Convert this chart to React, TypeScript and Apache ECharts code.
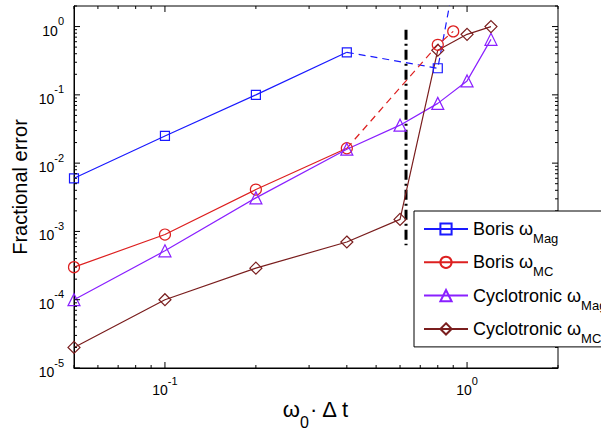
import React, { useEffect, useRef } from 'react';
import * as echarts from 'echarts';

// Axis ranges
const X_MIN = 0.05;
const X_MAX = 2;
const Y_MIN = 1e-5;
const Y_MAX = 2;

// Series data
const borisMagX = [0.05, 0.1, 0.2, 0.4];
const borisMagY = [6e-3, 0.025, 0.1, 0.42];
const borisMagDashX = [0.4, 0.8, 0.9];
const borisMagDashY = [0.42, 0.245, 4];

const borisMCX = [0.05, 0.1, 0.2, 0.4];
const borisMCY = [3e-4, 9e-4, 4.1e-3, 0.0165];
const borisMCDashX = [0.4, 0.8, 0.9];
const borisMCDashY = [0.0165, 0.54, 0.85];

const cycX = [0.05, 0.1, 0.2, 0.4, 0.6, 0.8, 1.0, 1.2];
const cycMagY = [1e-4, 5.2e-4, 3.1e-3, 0.016, 0.036, 0.075, 0.16, 0.65];
const cycMCY = [2e-5, 1e-4, 2.9e-4, 7e-4, 1.5e-3, 0.45, 0.77, 1.0];

const limitX = [0.628, 0.628];
const limitY = [0.9, 6.3e-4];

// Tick values / labels
const xMajorTicks = [0.1, 1];
const xMinorTicks = [0.05, 0.06, 0.07, 0.08, 0.09, 0.2, 0.3, 0.4, 0.5, 0.6, 0.7, 0.8, 0.9, 2];
const yMajorTicks = [1e-5, 1e-4, 1e-3, 1e-2, 1e-1, 1];
const minorMultipliers = [2, 3, 4, 5, 6, 7, 8, 9];
const yMinorTicks = yMajorTicks
  .slice(0, 5)
  .flatMap((d) => minorMultipliers.map((m) => m * d))
  .concat([2]);
const xLabelExps = [-1, 0];
const yLabelExps = [-5, -4, -3, -2, -1, 0];

// Legend
const seriesNames = ['Boris ωMag', 'Boris ωMC', 'Cyclotronic ωMag', 'Cyclotronic ωMC'];
const legendMain = ['Boris ω', 'Boris ω', 'Cyclotronic ω', 'Cyclotronic ω'];
const legendSub = ['Mag', 'MC', 'Mag', 'MC'];

const BLUE = '#1a1aff';
const RED = '#dd2020';
const PURPLE = '#8a20ff';
const BROWN = '#7a1e1e';
const FONT = 'Liberation Sans, Arial, Helvetica, sans-serif';

const zip = (xs: number[], ys: number[]) => xs.map((x, i) => [x, ys[i]]);

const expLabel = (v: number, exps: number[]) => {
  const e = Math.log10(v);
  const r = Math.round(e);
  if (Math.abs(e - r) > 1e-6 || !exps.includes(r)) return '';
  return `{b|10}{s|${r}}`;
};

const labelRich = {
  b: { fontSize: 14, lineHeight: 22, verticalAlign: 'bottom', fontFamily: FONT, color: '#000' },
  s: { fontSize: 11, lineHeight: 11, verticalAlign: 'top', fontFamily: FONT, color: '#000' },
};

const tickStyle = { stroke: '#000', lineWidth: 1 };

export default function App() {
  const ref = useRef<HTMLDivElement>(null);

  useEffect(() => {
    if (!ref.current) return;
    const chart = echarts.init(ref.current, undefined, { renderer: 'svg' });

    const lineSeries = (name: string, data: number[][], color: string, symbol: string, size: number, dashed = false, firstNoSymbol = false) => ({
      name,
      type: 'line',
      data: data.map((d, i) => (firstNoSymbol && i === 0 ? { value: d, symbol: 'none' } : d)),
      symbol,
      symbolSize: size,
      showAllSymbol: true,
      clip: true,
      lineStyle: { color, width: 1.2, type: dashed ? [7, 5] : 'solid' },
      itemStyle: { color: 'none', borderColor: color, borderWidth: 1.2 },
      emphasis: { disabled: true },
      silent: true,
      z: 3,
    });

    const option: any = {
      animation: false,
      backgroundColor: '#fff',
      grid: {
        left: 74,
        right: 43,
        top: 6,
        bottom: 65,
        containLabel: false,
        outerBoundsMode: 'none',
        show: true,
        borderColor: '#000',
        borderWidth: 1,
        backgroundColor: 'transparent',
      },
      xAxis: {
        type: 'log',
        logBase: 10,
        min: X_MIN,
        max: X_MAX,
        splitLine: { show: false },
        axisTick: { show: false },
        axisLine: { show: true, lineStyle: { color: '#000', width: 1 } },
        axisLabel: {
          margin: 7,
          formatter: (v: number) => expLabel(v, xLabelExps),
          rich: labelRich,
          showMinLabel: true,
          showMaxLabel: true,
        },
        name: '{a|ω}{s|0}{a|· Δ t}',
        nameLocation: 'middle',
        nameGap: 30,
        nameMoveOverlap: false,
        nameTextStyle: {
          rich: {
            a: { fontSize: 22, lineHeight: 26, verticalAlign: 'top', fontFamily: FONT, color: '#000' },
            s: { fontSize: 16, lineHeight: 16, padding: [16, 0, 0, 0], verticalAlign: 'top', fontFamily: FONT, color: '#000' },
          },
        },
      },
      yAxis: {
        type: 'log',
        logBase: 10,
        min: Y_MIN,
        max: Y_MAX,
        splitLine: { show: false },
        axisTick: { show: false },
        axisLine: { show: true, lineStyle: { color: '#000', width: 1 } },
        axisLabel: {
          margin: 10,
          formatter: (v: number) => expLabel(v, yLabelExps),
          rich: labelRich,
        },
        name: 'Fractional error',
        nameLocation: 'middle',
        nameGap: 44,
        nameMoveOverlap: false,
        nameTextStyle: { fontSize: 20, fontFamily: FONT, color: '#000' },
      },
      legend: {
        orient: 'vertical',
        left: 414,
        top: 211,
        itemWidth: 44,
        itemHeight: 14,
        itemGap: 1.3,
        padding: [2, 12, 2, 9],
        borderColor: '#000',
        borderWidth: 1,
        backgroundColor: '#fff',
        selectedMode: false,
        data: seriesNames,
        formatter: (name: string) => {
          const i = seriesNames.indexOf(name);
          return `{m|${legendMain[i]}}{s|${legendSub[i]}}`;
        },
        textStyle: {
          rich: {
            m: { fontSize: 18, lineHeight: 32, verticalAlign: 'middle', fontFamily: FONT, color: '#000' },
            s: { fontSize: 13, lineHeight: 13, padding: [19, 0, 0, 0], verticalAlign: 'top', fontFamily: FONT, color: '#000' },
          },
        },
        z: 10,
      },
      series: [
        lineSeries(seriesNames[0], zip(borisMagX, borisMagY), BLUE, 'rect', 9),
        lineSeries(seriesNames[1], zip(borisMCX, borisMCY), RED, 'circle', 11),
        lineSeries(seriesNames[2], zip(cycX, cycMagY), PURPLE, 'triangle', 12),
        lineSeries(seriesNames[3], zip(cycX, cycMCY), BROWN, 'diamond', 12),
        lineSeries('Boris ωMag (unstable)', zip(borisMagDashX, borisMagDashY), BLUE, 'rect', 9, true, true),
        lineSeries('Boris ωMC (unstable)', zip(borisMCDashX, borisMCDashY), RED, 'circle', 11, true, true),
        {
          name: 'limit',
          type: 'line',
          data: zip(limitX, limitY),
          symbol: 'none',
          silent: true,
          lineStyle: { color: '#000', width: 3, type: [10, 4, 2, 4] },
          z: 2,
        },
        {
          name: 'xticks',
          type: 'custom',
          silent: true,
          data: xMajorTicks.map((v) => [v, 1, 1]).concat(xMinorTicks.map((v) => [v, 1, 0])),
          renderItem: (_p: any, api: any) => {
            const v = api.value(0);
            const len = api.value(2) === 1 ? 6 : 3;
            const b = api.coord([v, Y_MIN]);
            const t = api.coord([v, Y_MAX]);
            return {
              type: 'group',
              children: [
                { type: 'line', shape: { x1: b[0], y1: b[1], x2: b[0], y2: b[1] - len }, style: tickStyle },
                { type: 'line', shape: { x1: t[0], y1: t[1], x2: t[0], y2: t[1] + len }, style: tickStyle },
              ],
            };
          },
          z: 5,
        },
        {
          name: 'yticks',
          type: 'custom',
          silent: true,
          data: yMajorTicks.map((v) => [1, v, 1]).concat(yMinorTicks.map((v) => [1, v, 0])),
          renderItem: (_p: any, api: any) => {
            const v = api.value(1);
            const len = api.value(2) === 1 ? 6 : 3;
            const l = api.coord([X_MIN, v]);
            const r = api.coord([X_MAX, v]);
            return {
              type: 'group',
              children: [
                { type: 'line', shape: { x1: l[0], y1: l[1], x2: l[0] + len, y2: l[1] }, style: tickStyle },
                { type: 'line', shape: { x1: r[0], y1: r[1], x2: r[0] - len, y2: r[1] }, style: tickStyle },
              ],
            };
          },
          z: 5,
        },
      ],
    };

    chart.setOption(option);
    return () => chart.dispose();
  }, []);

  return <div ref={ref} style={{ width: 601, height: 433, position: 'absolute', left: 0, top: 0 }} />;
}
